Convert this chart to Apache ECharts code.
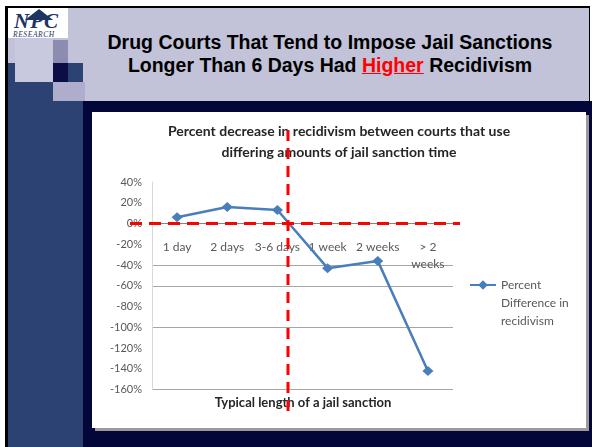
<!DOCTYPE html>
<html>
<head>
<meta charset="utf-8">
<script src="https://cdn.jsdelivr.net/npm/echarts@6/dist/echarts.min.js"></script>
<style>
body { margin: 0; width: 592px; height: 447px; position: relative; background: #fff; overflow: hidden; }
.b { position: absolute; }
#head { left: 30px; width: 600px; top: 31px; text-align: center; white-space: nowrap;
  font: bold 19.5px/23px "Liberation Sans", Arial, sans-serif; color: #000; }
#head u { color: #ff0000; }
</style>
</head>
<body>
<!-- slide frame -->
<div class="b" style="left:5px;top:6px;width:585px;height:441px;background:#000"></div>
<div class="b" style="left:8px;top:8px;width:581px;height:93px;background:#c2c2d8"></div>
<div class="b" style="left:8px;top:101px;width:584px;height:346px;background:#020639"></div>
<div class="b" style="left:8px;top:63px;width:75px;height:384px;background:#2b4272"></div>
<div class="b" style="left:15px;top:38px;width:38px;height:44px;background:#c8c8de"></div>
<div class="b" style="left:53px;top:40px;width:15px;height:23px;background:#8c8cb0"></div>
<div class="b" style="left:53px;top:63px;width:15px;height:19px;background:#0d0d45"></div>
<div class="b" style="left:53px;top:82px;width:32px;height:19px;background:#aeaecc"></div>
<div class="b" style="left:8px;top:8px;width:60px;height:30px;background:#fff"></div>
<!-- logo -->
<div class="b" style="left:25px;top:9px;width:0;height:0;border-left:14px solid transparent;border-right:14px solid transparent;border-bottom:11px solid #1e3562"></div>
<div class="b" style="left:14px;top:11px;font:italic bold 21px/21px 'Liberation Serif',serif;color:#1e3562;letter-spacing:1px">NPC</div>
<div class="b" style="left:13px;top:31px;font:italic 7.5px/7px 'Liberation Serif',serif;color:#1e3562;letter-spacing:0.6px">RESEARCH</div>
<div id="head" class="b">Drug Courts That Tend to Impose Jail Sanctions<br>Longer Than 6 Days Had <u>Higher</u> Recidivism</div>
<!-- chart box -->
<div class="b" style="left:92px;top:112px;width:494px;height:316px;background:#fff;box-shadow:3px 3px 0 #9a9a9a"></div>
<div id="main" class="b" style="left:0;top:0;width:592px;height:447px"></div>
<script>
var categories = ['1 day', '2 days', '3-6 days', '1 week', '2 weeks', '> 2\nweeks'];
var percentDiff = [6, 16, 13, -43, -36, -142];
var legendLines = ['Percent', 'Difference in', 'recidivism'];
var seriesName = legendLines.join(' ');
var chartTitle = 'Percent decrease in recidivism between courts that use\ndiffering amounts of jail sanction time';
var xAxisTitle = 'Typical length of a jail sanction';

var font = 'Lato';
var myChart = echarts.init(document.getElementById('main'), null, { renderer: 'canvas' });

// only some grid lines survive in the picture: -160, -100, -60, -40
var gridColors = ['#a6a6a6', 'rgba(0,0,0,0)', 'rgba(0,0,0,0)', '#a6a6a6', 'rgba(0,0,0,0)',
  '#a6a6a6', '#a6a6a6', 'rgba(0,0,0,0)', 'rgba(0,0,0,0)', 'rgba(0,0,0,0)', 'rgba(0,0,0,0)'];

var option = {
  backgroundColor: 'transparent',
  animation: false,
  title: [{
    text: chartTitle,
    left: 339, top: 121, padding: 0,
    textAlign: 'center',
    textStyle: { fontFamily: font, fontSize: 14, fontWeight: 'bold', color: '#262626', lineHeight: 21 }
  }, {
    text: xAxisTitle,
    left: 303, top: 396, padding: 0,
    textAlign: 'center',
    textStyle: { fontFamily: font, fontSize: 13, fontWeight: 'bold', color: '#262626' }
  }],
  legend: {
    left: 469, top: 240, padding: 0,
    itemWidth: 26, itemHeight: 12,
    data: [seriesName],
    // two blank lines first so the icon sits beside the first text line
    formatter: function () { return '\n\n' + legendLines.join('\n'); },
    textStyle: { fontFamily: font, fontSize: 12, color: '#595959', lineHeight: 18 }
  },
  grid: { left: 152, right: 139, top: 182, bottom: 57.4 },
  xAxis: {
    type: 'category',
    data: categories,
    boundaryGap: true,
    axisLine: { onZero: false, lineStyle: { color: '#868686', width: 1 } },
    axisTick: { length: 4, lineStyle: { color: '#868686' } },
    axisLabel: { fontFamily: font, fontSize: 12, color: '#595959', margin: 15, lineHeight: 17, interval: 0 }
  },
  yAxis: {
    type: 'value',
    min: -160, max: 40, interval: 20,
    axisLine: { show: true, lineStyle: { color: '#d9d9d9' } },
    axisTick: { show: false },
    axisLabel: { fontFamily: font, fontSize: 11, color: '#595959', margin: 10, formatter: '{value}%' },
    splitLine: { lineStyle: { color: gridColors, width: 1 } }
  },
  series: [{
    name: seriesName,
    type: 'line',
    data: percentDiff,
    symbol: 'diamond',
    symbolSize: [11, 10],
    itemStyle: { color: '#4a7ebb' },
    lineStyle: { color: '#4a7ebb', width: 2.5 }
  }]
};
myChart.setOption(option);

// move the category axis up onto the 0% line
var zeroY = myChart.convertToPixel({ yAxisIndex: 0 }, 0);
var bottomY = myChart.convertToPixel({ yAxisIndex: 0 }, -160);

// red dashed marker lines drawn on the slide
myChart.setOption({
  xAxis: { offset: -(bottomY - zeroY) },
  graphic: [{
    type: 'line', z: 100,
    shape: { x1: 130, y1: zeroY, x2: 460, y2: zeroY },
    style: { stroke: '#ff0000', lineWidth: 3, lineDash: [12, 7] }
  }, {
    type: 'line', z: 100,
    shape: { x1: 288, y1: 130, x2: 288, y2: 411 },
    style: { stroke: '#ff0000', lineWidth: 3, lineDash: [11, 7] }
  }]
});
</script>
</body>
</html>
